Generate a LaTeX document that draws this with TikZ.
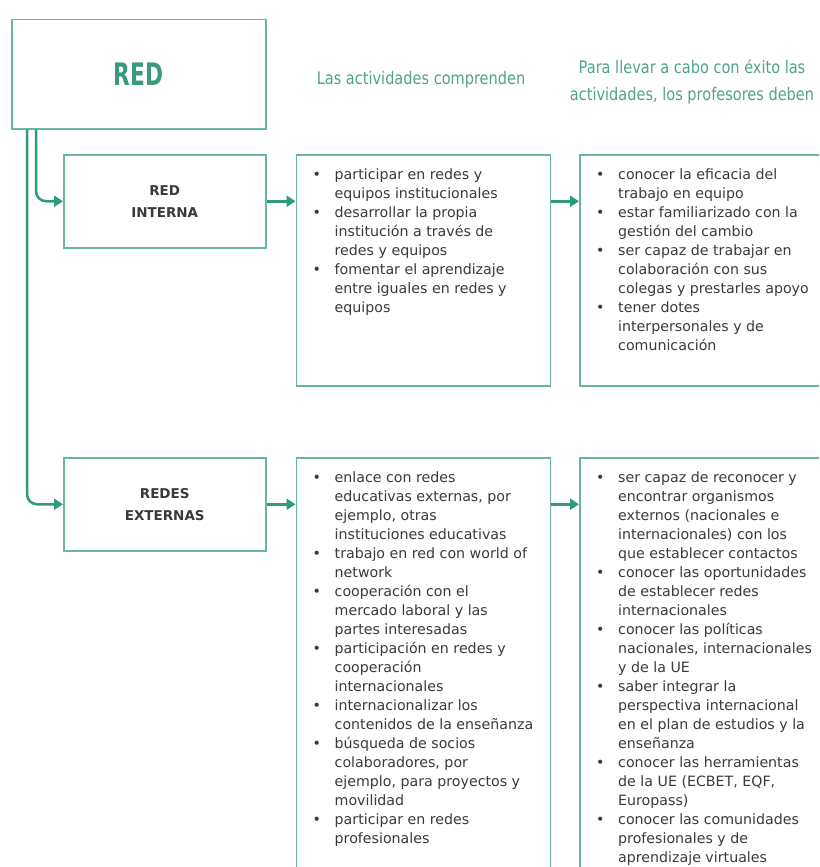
\documentclass[tikz,border=0pt]{standalone}
\usepackage{fontspec}
\setmainfont{DejaVu Sans}
\newfontfamily\headfont[FakeStretch=0.84]{DejaVu Sans}
\newfontfamily\titlefont[FakeStretch=0.7]{DejaVu Sans}
\usetikzlibrary{positioning,arrows.meta}

\definecolor{tealline}{HTML}{66B6A3}
\definecolor{tealarrow}{HTML}{2E9A80}
\definecolor{tealtext}{HTML}{3A9A80}
\definecolor{headtext}{HTML}{4FA28C}
\definecolor{bodytext}{HTML}{3A3A3A}

\newcommand{\blt}{\textbullet}

\tikzset{
  box/.style={draw=tealline, line width=1.5pt, fill=white, inner sep=0pt},
  headbox/.style={box, minimum width=254pt, minimum height=109pt,
    font=\titlefont\fontsize{31}{31}\selectfont\bfseries, text=tealtext},
  sidebox/.style={box, minimum width=202pt, minimum height=93pt, align=center,
    font=\fontsize{13.5}{22}\selectfont\bfseries, text=bodytext},
  listbox/.style={box, minimum width=254pt},
  itemlist/.style={inner sep=0pt, text=bodytext, font=\fontsize{14.2}{19}\selectfont},
  headlabel/.style={text=headtext, align=center, font=\headfont\fontsize{17.3}{27}\selectfont},
  link/.style={draw=tealarrow, line width=2.5pt, rounded corners=10pt,
    -{Triangle[length=9pt,width=11pt]}},
}

\begin{document}
\begin{tikzpicture}[x=1pt, y=-1pt]
  \useasboundingbox (0,0) rectangle (819,867);
  \clip (0,0) rectangle (819,867);

  % main box and headings
  \node[headbox, anchor=north west] (red) at (11,19) {RED};
  \node[headlabel] (hdact) at (421,80) {Las actividades comprenden};
  \node[headlabel] (hdprof) at (692,82) {Para llevar a cabo con éxito las\\actividades, los profesores deben};

  % red interna
  \node[sidebox, anchor=north west] (interna) at (63,154) {RED\\INTERNA};
  \node[listbox, minimum height=231pt, right=29pt of interna.north east, anchor=north west] (actA) {};
  \node[listbox, minimum height=231pt, right=28pt of actA.north east, anchor=north west] (compA) {};

  % redes externas
  \node[sidebox, anchor=north west] (externas) at (63,457) {REDES\\EXTERNAS};
  \node[listbox, minimum height=450pt, right=29pt of externas.north east, anchor=north west] (actB) {};
  \node[listbox, minimum height=450pt, right=28pt of actB.north east, anchor=north west] (compB) {};

  \node[itemlist, anchor=north west] (listactA) at ([xshift=17pt,yshift=-12pt]actA.north west) {%
    \begin{tabular}{@{}p{22pt}@{}l@{}}
      \blt & participar en redes y\\
           & equipos institucionales\\
      \blt & desarrollar la propia\\
           & institución a través de\\
           & redes y equipos\\
      \blt & fomentar el aprendizaje\\
           & entre iguales en redes y\\
           & equipos
    \end{tabular}};
  \node[itemlist, anchor=north west] (listcompA) at ([xshift=17pt,yshift=-12pt]compA.north west) {%
    \begin{tabular}{@{}p{22pt}@{}l@{}}
      \blt & conocer la eficacia del\\
           & trabajo en equipo\\
      \blt & estar familiarizado con la\\
           & gestión del cambio\\
      \blt & ser capaz de trabajar en\\
           & colaboración con sus\\
           & colegas y prestarles apoyo\\
      \blt & tener dotes\\
           & interpersonales y de\\
           & comunicación
    \end{tabular}};
  \node[itemlist, anchor=north west] (listactB) at ([xshift=17pt,yshift=-12pt]actB.north west) {%
    \begin{tabular}{@{}p{22pt}@{}l@{}}
      \blt & enlace con redes\\
           & educativas externas, por\\
           & ejemplo, otras\\
           & instituciones educativas\\
      \blt & trabajo en red con world of\\
           & network\\
      \blt & cooperación con el\\
           & mercado laboral y las\\
           & partes interesadas\\
      \blt & participación en redes y\\
           & cooperación\\
           & internacionales\\
      \blt & internacionalizar los\\
           & contenidos de la enseñanza\\
      \blt & búsqueda de socios\\
           & colaboradores, por\\
           & ejemplo, para proyectos y\\
           & movilidad\\
      \blt & participar en redes\\
           & profesionales
    \end{tabular}};
  \node[itemlist, anchor=north west] (listcompB) at ([xshift=17pt,yshift=-12pt]compB.north west) {%
    \begin{tabular}{@{}p{22pt}@{}l@{}}
      \blt & ser capaz de reconocer y\\
           & encontrar organismos\\
           & externos (nacionales e\\
           & internacionales) con los\\
           & que establecer contactos\\
      \blt & conocer las oportunidades\\
           & de establecer redes\\
           & internacionales\\
      \blt & conocer las políticas\\
           & nacionales, internacionales\\
           & y de la UE\\
      \blt & saber integrar la\\
           & perspectiva internacional\\
           & en el plan de estudios y la\\
           & enseñanza\\
      \blt & conocer las herramientas\\
           & de la UE (ECBET, EQF,\\
           & Europass)\\
      \blt & conocer las comunidades\\
           & profesionales y de\\
           & aprendizaje virtuales
    \end{tabular}};

  % connectors
  \draw[link] ([xshift=25pt]red.south west) |- (interna.west);
  \draw[link] ([xshift=16pt]red.south west) |- (externas.west);
  \draw[link] (interna) -- (actA.west |- interna);
  \draw[link] (actA.east |- interna) -- (compA.west |- interna);
  \draw[link] (externas) -- (actB.west |- externas);
  \draw[link] (actB.east |- externas) -- (compB.west |- externas);
\end{tikzpicture}
\end{document}
